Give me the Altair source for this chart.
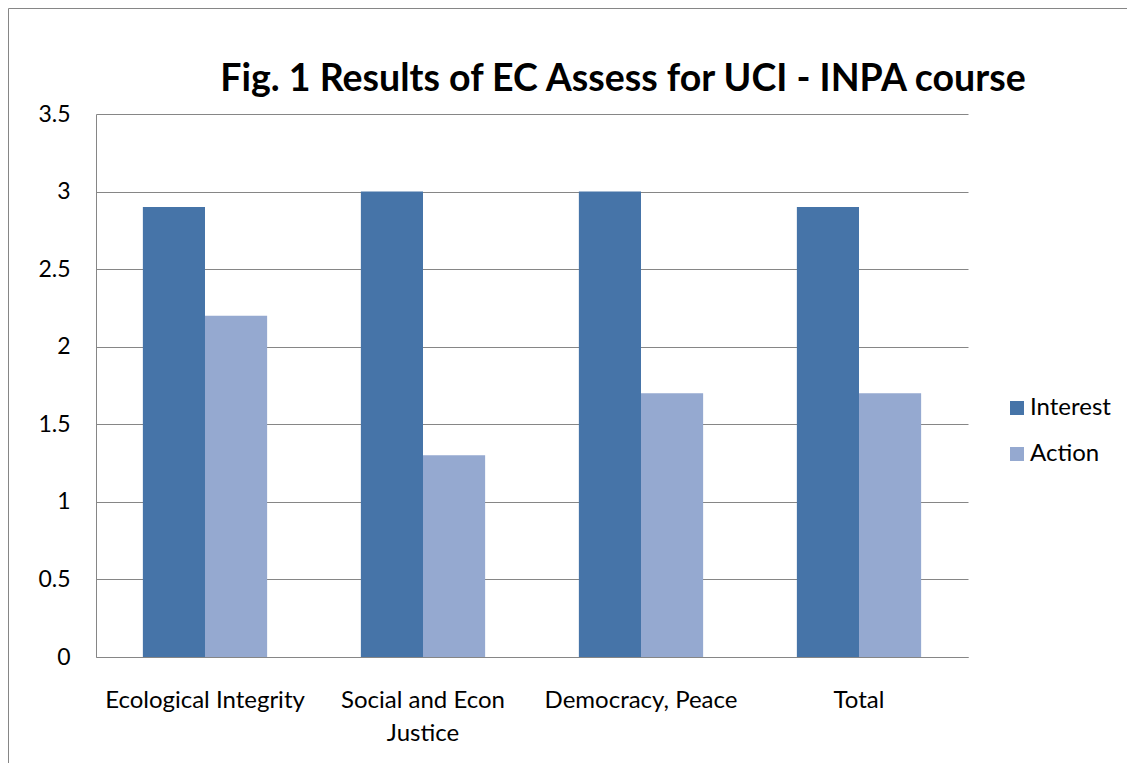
import altair as alt
import pandas as pd

title_text = "Fig. 1 Results of EC Assess for UCI - INPA course"
categories = ["Ecological Integrity", "Social and Econ Justice", "Democracy, Peace", "Total"]
series_names = ["Interest", "Action"]
interest = [2.9, 3.0, 3.0, 2.9]
action = [2.2, 1.3, 1.7, 1.7]
y_ticks = [0, 0.5, 1, 1.5, 2, 2.5, 3, 3.5]
colors = ["#4674A8", "#95A9D0"]

rows = []
for c, i, a in zip(categories, interest, action):
    rows.append({"category": c, "series": "Interest", "value": i})
    rows.append({"category": c, "series": "Action", "value": a})
df = pd.DataFrame(rows)

FONT = "Lato"

bars = alt.Chart(df).mark_bar().encode(
    x=alt.X("category:N", sort=categories, title=None,
            scale=alt.Scale(paddingInner=0.43, paddingOuter=0.215),
            axis=alt.Axis(labelAngle=0, ticks=False, domainColor="#868686", domainWidth=1,
                          labelFontSize=24, labelFont=FONT, labelColor="black", labelPadding=31,
                          labelLineHeight=33, labelLimit=500,
                          labelExpr="datum.label == 'Social and Econ Justice' ? ['Social and Econ', 'Justice'] : datum.label")),
    xOffset=alt.XOffset("series:N", sort=series_names, scale=alt.Scale(paddingInner=0, paddingOuter=0)),
    y=alt.Y("value:Q", title=None,
            scale=alt.Scale(domain=[0, 3.5], nice=False),
            axis=alt.Axis(values=y_ticks, format="~g", ticks=False, grid=True, gridColor="#868686",
                          gridWidth=1, domainColor="#868686", domainWidth=1,
                          labelFontSize=23, labelFont=FONT, labelColor="black", labelPadding=26)),
    color=alt.Color("series:N", sort=series_names,
                    scale=alt.Scale(domain=series_names, range=colors),
                    legend=alt.Legend(title=None, orient="none", legendX=909, legendY=282,
                                      symbolType="square", symbolSize=196, symbolStrokeWidth=0,
                                      labelFontSize=24, labelFont=FONT, labelColor="black",
                                      rowPadding=22, labelOffset=1)),
)

border = alt.Chart(pd.DataFrame({"k": [0]})).mark_rect(fill=None, stroke="#868686", strokeWidth=1).encode(
    x=alt.value(-87.5), y=alt.value(-105.5), x2=alt.value(1200), y2=alt.value(800)
)

title = alt.Chart(pd.DataFrame({"t": [title_text]})).mark_text(
    font=FONT, fontSize=37.5, fontWeight="bold", color="black", align="center", baseline="alphabetic"
).encode(text="t:N", x=alt.value(527), y=alt.value(-23))

chart = alt.layer(border, bars, title).properties(
    width=872, height=543,
    autosize=alt.AutoSizeParams(type="none"),
    padding={"left": 88, "top": 106, "right": 159, "bottom": 106},
).configure_view(stroke=None)

chart.save("out.html", embed_options={"renderer": "svg", "actions": False})
